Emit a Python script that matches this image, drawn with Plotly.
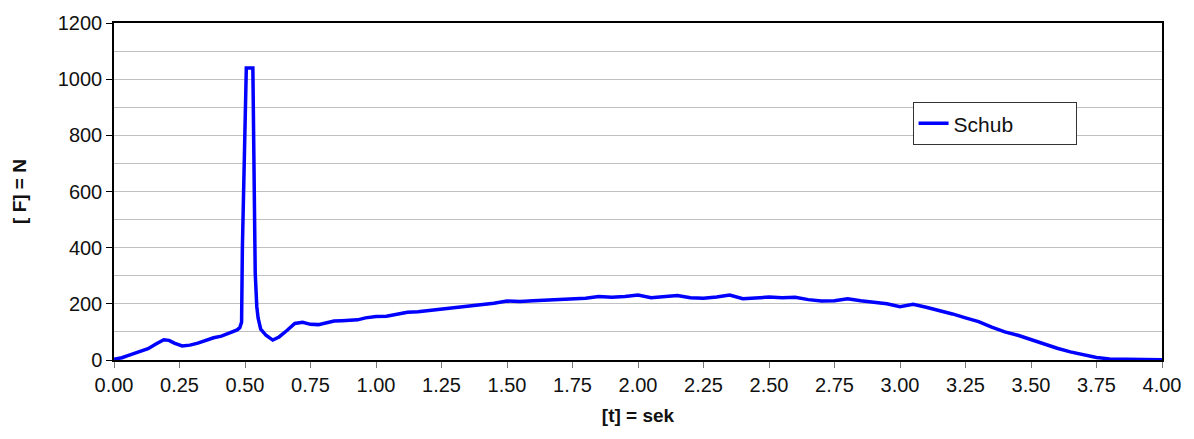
import plotly.graph_objects as go

t_sec = [0.00, 0.03, 0.05, 0.08, 0.10, 0.13, 0.16, 0.19, 0.21, 0.23, 0.26, 0.29, 0.32, 0.35,
         0.38, 0.41, 0.44, 0.47, 0.48, 0.487, 0.49, 0.497, 0.505, 0.530, 0.534, 0.539, 0.545,
         0.55, 0.56, 0.58, 0.606, 0.63, 0.66, 0.69, 0.72, 0.75, 0.78, 0.81, 0.84, 0.87, 0.90,
         0.93, 0.96, 1.00, 1.04, 1.08, 1.12, 1.16, 1.20, 1.25, 1.30, 1.35, 1.40, 1.45, 1.50,
         1.55, 1.60, 1.65, 1.70, 1.75, 1.80, 1.85, 1.90, 1.95, 2.00, 2.05, 2.10, 2.15, 2.20,
         2.25, 2.30, 2.35, 2.40, 2.45, 2.50, 2.55, 2.60, 2.65, 2.70, 2.75, 2.80, 2.85, 2.90,
         2.95, 3.00, 3.05, 3.10, 3.15, 3.20, 3.25, 3.30, 3.35, 3.40, 3.45, 3.50, 3.55, 3.60,
         3.65, 3.70, 3.75, 3.80, 3.85, 3.90, 3.95, 4.00]
schub_N = [3, 8, 15, 25, 30, 40, 57, 72, 70, 60, 50, 53, 60, 70,
           79, 85, 95, 107, 115, 135, 400, 780, 1040, 1040, 550, 310, 190,
           150, 110, 88, 71, 82, 105, 130, 134, 127, 126, 132, 139, 140, 140,
           143, 150, 155, 156, 164, 170, 172, 176, 181, 187, 193, 196, 202, 210,
           208, 211, 213, 216, 219, 220, 226, 223, 226, 231, 222, 226, 230, 222,
           220, 224, 231, 218, 222, 224, 222, 223, 215, 210, 211, 218, 211, 205,
           200, 190, 198, 188, 177, 164, 150, 137, 117, 100, 88, 72, 56, 42,
           29, 18, 9, 4, 3, 2, 1, 1]

FONT = "Liberation Sans, Arial, sans-serif"

fig = go.Figure()
fig.add_trace(go.Scatter(x=t_sec, y=schub_N, mode="lines", name="Schub",
                         line=dict(color="#0000ff", width=3.5)))

fig.update_layout(
    width=1194, height=439,
    margin=dict(l=106, r=40, t=15, b=87),
    paper_bgcolor="white", plot_bgcolor="white",
    font=dict(family=FONT, size=20, color="#111"),
    showlegend=True,
    legend=dict(x=0.762, y=0.765, xanchor="left", yanchor="top",
                orientation="h",
                bordercolor="#333", borderwidth=1, bgcolor="white",
                font=dict(size=21), tracegroupgap=0,
                entrywidth=117, entrywidthmode="pixels"),
)
fig.update_xaxes(
    range=[0, 4], dtick=0.25, tick0=0, tickformat=".2f",
    showgrid=False, showline=True, linecolor="black", linewidth=1.5, mirror=True,
    ticks="outside", ticklen=6, tickcolor="#777", automargin=False,
    title=dict(text="<b>[t] = sek</b>", font=dict(size=19), standoff=14),
)
fig.update_yaxes(
    range=[0, 1200], dtick=200, tick0=0,
    showgrid=True, gridcolor="#c0c0c0", gridwidth=1,
    minor=dict(dtick=100, showgrid=True, gridcolor="#c0c0c0", gridwidth=1),
    showline=True, linecolor="black", linewidth=1.5, mirror=True,
    ticks="outside", ticklen=6, tickcolor="black", automargin=False,
    zeroline=False,
    title=dict(text="<b>[ F] = N</b>", font=dict(size=19), standoff=26),
)

fig.write_html("out.html")
